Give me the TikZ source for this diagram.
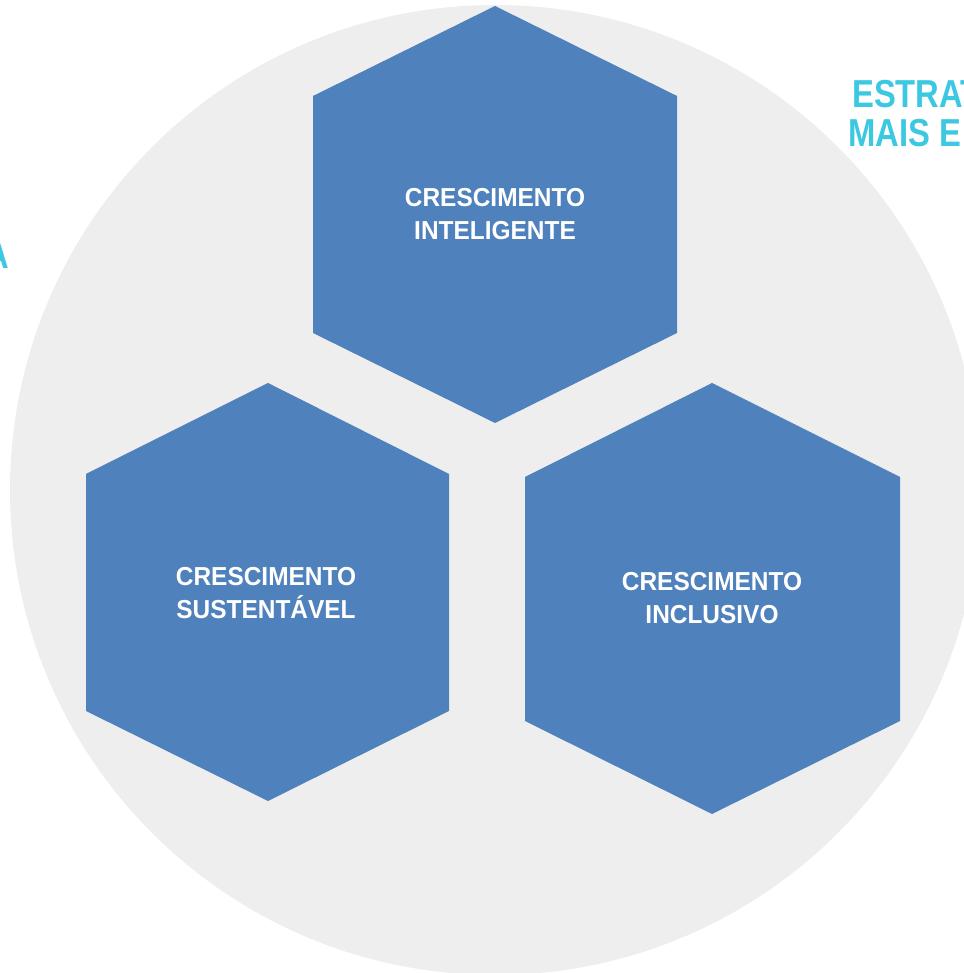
\documentclass[tikz,border=0pt]{standalone}
\usepackage{fontspec}
\setmainfont{Liberation Sans}
\newfontfamily\lblfont{Liberation Sans}[FakeStretch=0.94]
\newfontfamily\cyanfont{Liberation Sans}[FakeStretch=0.84]
\definecolor{bggray}{HTML}{EEEEEE}
\definecolor{hexblue}{HTML}{4F81BD}
\definecolor{cyantext}{HTML}{3DC8E2}
\begin{document}
\begin{tikzpicture}[x=1pt,y=1pt,
  hexfill/.style={fill=hexblue},
  lbl/.style={text=white, font=\lblfont\fontsize{26}{33}\selectfont\bfseries, align=center, inner sep=0pt},
  cyanlbl/.style={text=cyantext, font=\cyanfont\fontsize{39}{42}\selectfont\bfseries, inner sep=0pt}]
\useasboundingbox (0,0) rectangle (963,973);
\fill[bggray] (495,483) circle (485);
% top hexagon
\fill[hexblue] (495,967) -- (677,877) -- (677,640) -- (495,550) -- (313,640) -- (313,877) -- cycle;
% left hexagon
\fill[hexblue] (268,590) -- (449,499) -- (449,262) -- (268,172) -- (86,262) -- (86,499) -- cycle;
% right hexagon
\fill[hexblue] (712,590) -- (900,496) -- (900,252) -- (712,159) -- (525,252) -- (525,496) -- cycle;
\node[lbl] (intel) at (495,758.5) {CRESCIMENTO\\INTELIGENTE};
\node[lbl] (sust) at (266,380) {CRESCIMENTO\\SUSTENTÁVEL};
\node[lbl] (incl) at (712,374.5) {CRESCIMENTO\\INCLUSIVO};
\node[cyanlbl, anchor=base west] (estrat) at (852,865) {ESTRAT};
\node[cyanlbl, anchor=base west] (mais) at (848,826) {MAIS E};
\node[cyanlbl, anchor=base east] (leftA) at (9,704) {A};
\end{tikzpicture}
\end{document}
